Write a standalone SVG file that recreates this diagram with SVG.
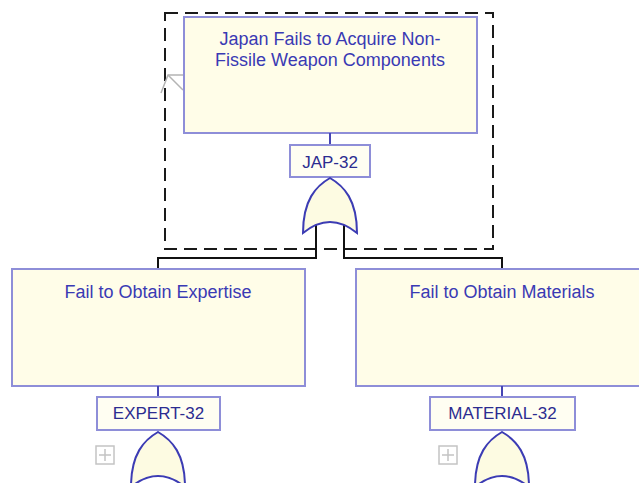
<svg xmlns="http://www.w3.org/2000/svg" width="639" height="483" viewBox="0 0 639 483">
<style>
.box{fill:#fffde8;stroke:#8e8ed8;stroke-width:2}
.idbox{fill:#fffef2;stroke:#8e8ed8;stroke-width:2}
.desc{font-family:"Liberation Sans",Arial,sans-serif;font-size:18px;fill:#3a3ab4;text-anchor:middle}
.id{font-family:"Liberation Sans",Arial,sans-serif;font-size:17px;fill:#2c2c90;text-anchor:middle}
.stem{stroke:#4646b4;stroke-width:2;fill:none}
.gate{fill:#fdfbe2;stroke:#3c3cb4;stroke-width:2}
.conn{stroke:#111;stroke-width:2;fill:none}
.plus{fill:none;stroke:#c4c4c4;stroke-width:1.5}
</style>
<defs>
<path id="orgate" d="M0,0 C14,8 27,22 27,55 Q0,33 -27,55 C-27,22 -14,8 0,0 Z"/>
</defs>

<rect x="165" y="13" width="328" height="236" fill="none" stroke="#1a1a1a" stroke-width="2" stroke-dasharray="13 7"/>
<polyline points="161,93 168,75 183,75" fill="none" stroke="#b4b4b4" stroke-width="1.5"/>
<line x1="168" y1="75" x2="183" y2="90" stroke="#b4b4b4" stroke-width="1.5"/>

<g id="connectors">
<polyline class="conn" points="316,224 316,258 158,258 158,269"/>
<polyline class="conn" points="344,224 344,258 502,258 502,269"/>
</g>

<g id="JAP-32">
<rect class="box" x="184" y="17" width="293" height="116"/>
<text class="desc" x="330" y="45">Japan Fails to Acquire Non-</text>
<text class="desc" x="330" y="66">Fissile Weapon Components</text>
<line class="stem" x1="330" y1="133" x2="330" y2="145"/>
<rect class="idbox" x="290" y="145" width="80" height="32"/>
<text class="id" x="330" y="168">JAP-32</text>
<use href="#orgate" class="gate" x="330" y="178"/>
</g>

<g id="EXPERT-32">
<rect class="box" x="12" y="269" width="293" height="117"/>
<text class="desc" x="158" y="298">Fail to Obtain Expertise</text>
<line class="stem" x1="158" y1="386" x2="158" y2="397"/>
<rect class="idbox" x="97" y="397" width="123" height="33"/>
<text class="id" x="158.5" y="419">EXPERT-32</text>
<use href="#orgate" class="gate" x="158" y="432"/>
<rect class="plus" x="96" y="446" width="18" height="18"/>
<path class="plus" d="M105,449 V461 M99,455 H111"/>
</g>

<g id="MATERIAL-32">
<rect class="box" x="356" y="269" width="293" height="117"/>
<text class="desc" x="502" y="298">Fail to Obtain Materials</text>
<line class="stem" x1="502" y1="386" x2="502" y2="397"/>
<rect class="idbox" x="430" y="397" width="145" height="33"/>
<text class="id" x="502.5" y="419">MATERIAL-32</text>
<use href="#orgate" class="gate" x="502" y="432"/>
<rect class="plus" x="439" y="446" width="18" height="18"/>
<path class="plus" d="M448,449 V461 M442,455 H454"/>
</g>
</svg>
